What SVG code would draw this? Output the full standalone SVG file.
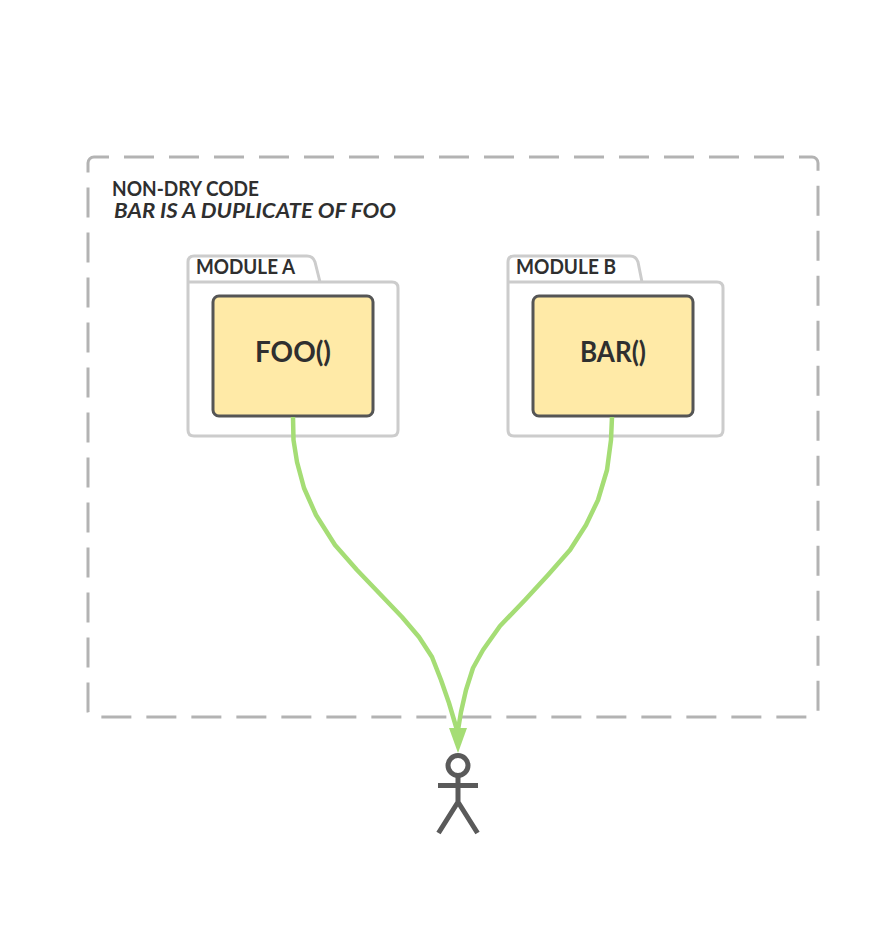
<svg xmlns="http://www.w3.org/2000/svg" width="896" height="948" viewBox="0 0 896 948">
<style>
text{font-family:"Lato","Open Sans","Liberation Sans",sans-serif;fill:#2f2f2f;font-weight:700}
.folder{fill:none;stroke:#ccc;stroke-width:3;stroke-linejoin:round}
.box{fill:#FFEAA7;stroke:#555;stroke-width:3}
.edge{fill:none;stroke:#A5DD75;stroke-width:4.500;stroke-linecap:butt;stroke-linejoin:round}
.actor{fill:none;stroke:#5a5a5a;stroke-width:5}
</style>
<rect width="896" height="948" fill="#fff"/>
<g id="boundary">
<rect x="88" y="157" width="730" height="560" rx="6" fill="none" stroke="#b3b3b3" stroke-width="3" stroke-dasharray="30 15" stroke-dashoffset="15"/>
<text x="112" y="196" font-size="20" textLength="147" lengthAdjust="spacingAndGlyphs">NON-DRY CODE</text>
<text x="114" y="218" font-size="20" font-style="italic" textLength="282" lengthAdjust="spacingAndGlyphs">BAR IS A DUPLICATE OF FOO</text>
</g>
<g id="module-a">
<path class="folder" d="M188 282V262Q188 256 194 256H307Q313 256 315 262L320 282M188 282H392Q398 282 398 288V430Q398 436 392 436H194Q188 436 188 430V282"/>
<text x="196" y="274" font-size="20" textLength="99" lengthAdjust="spacingAndGlyphs">MODULE A</text>
</g>
<g id="foo">
<rect class="box" x="213" y="296" width="160" height="120" rx="6"/>
<text x="293" y="362" font-size="28" text-anchor="middle" textLength="76" lengthAdjust="spacingAndGlyphs">FOO()</text>
</g>
<g id="module-b">
<path class="folder" d="M508 282V262Q508 256 514 256H630Q636 256 638 262L642 282M508 282H717Q723 282 723 288V430Q723 436 717 436H514Q508 436 508 430V282"/>
<text x="516" y="274" font-size="20" textLength="100" lengthAdjust="spacingAndGlyphs">MODULE B</text>
</g>
<g id="bar">
<rect class="box" x="533" y="296" width="160" height="120" rx="6"/>
<text x="613" y="362" font-size="28" text-anchor="middle" textLength="66" lengthAdjust="spacingAndGlyphs">BAR()</text>
</g>
<g id="user">
<circle class="actor" cx="458" cy="765.500" r="10"/>
<path class="actor" d="M458 776V802M438 785.500H478M458 802L438.500 833M458 802L477.500 833"/>
</g>
<g id="connectors">
<path class="edge" d="M293 417L293.500 440L297 462L304 488L316 515L335 545L357 570L380 594L402 617L419 637L432 657L441 680L449 703L457 730"/>
<path class="edge" d="M612 417L611 440L607 470L598 500L586 525L570 550L548 575L525 600L500 626L483 650L473 668L466 690L461 712L458 730"/>
<polygon points="449,728 467,728 458,753" fill="#A5DD75"/>
</g>
</svg>
